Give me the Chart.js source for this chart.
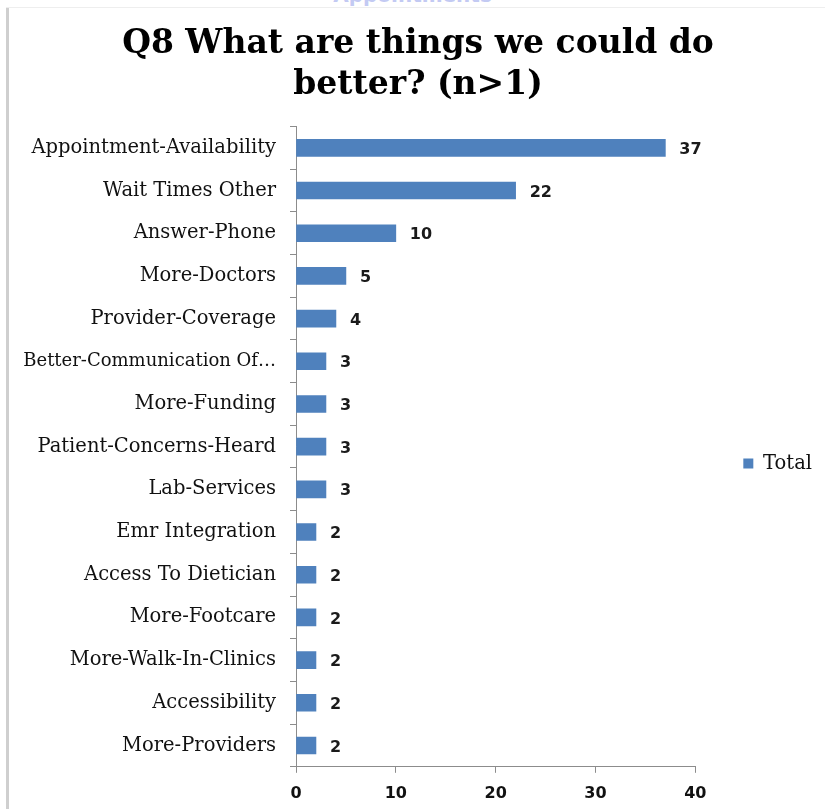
<!DOCTYPE html>
<html>
<head>
<meta charset="utf-8">
<script src="https://cdn.jsdelivr.net/npm/chart.js@4/dist/chart.umd.min.js"></script>
<style>
  html,body{margin:0;padding:0;background:#fff;}
  #wrap{position:relative;width:825px;height:809px;overflow:hidden;background:#fff;}
  #frameL{position:absolute;left:6px;top:7px;width:3px;height:810px;background:#cfcfcf;}
  #frameT{position:absolute;left:6px;top:7px;width:830px;height:1px;background:#eeeeee;}
  #ghost{position:absolute;left:0;width:825px;top:-17px;text-align:center;font:bold 20px "DejaVu Sans",sans-serif;color:#c3caf3;}
  canvas{position:absolute;left:0;top:0;}
</style>
</head>
<body>
<div id="wrap">
  <div id="ghost">Appointments</div>
  <div id="frameL"></div>
  <div id="frameT"></div>
  <canvas id="c" width="825" height="809"></canvas>
</div>
<script>
const titleLines = ["Q8 What are things we could do", "better? (n>1)"];
const categories = [
  "Appointment-Availability",
  "Wait Times Other",
  "Answer-Phone",
  "More-Doctors",
  "Provider-Coverage",
  "Better-Communication Of\u2026",
  "More-Funding",
  "Patient-Concerns-Heard",
  "Lab-Services",
  "Emr Integration",
  "Access To Dietician",
  "More-Footcare",
  "More-Walk-In-Clinics",
  "Accessibility",
  "More-Providers"
];
const totals = [37, 22, 10, 5, 4, 3, 3, 3, 3, 2, 2, 2, 2, 2, 2];
const seriesName = "Total";
const xTicks = [0, 10, 20, 30, 40];

const valueLabels = {
  id: 'valueLabels',
  afterDatasetsDraw(chart) {
    const ctx = chart.ctx;
    ctx.save();
    ctx.font = 'bold 16px "DejaVu Sans", sans-serif';
    ctx.fillStyle = '#1a1a1a';
    ctx.textAlign = 'left';
    ctx.textBaseline = 'middle';
    chart.getDatasetMeta(0).data.forEach((el, i) => {
      ctx.fillText(String(chart.data.datasets[0].data[i]), el.x + 14, el.y + 2);
    });
    ctx.restore();
  }
};

new Chart(document.getElementById('c'), {
  type: 'bar',
  data: {
    labels: categories,
    datasets: [{
      label: seriesName,
      data: totals,
      backgroundColor: '#4F81BD',
      borderWidth: 0,
      barThickness: 17
    }]
  },
  options: {
    indexAxis: 'y',
    responsive: false,
    animation: false,
    layout: { padding: { left: 14, right: 3, top: 0, bottom: -5 } },
    plugins: {
      title: {
        display: true,
        text: titleLines,
        color: '#000',
        font: { family: '"DejaVu Serif", serif', weight: 'bold', size: 33, lineHeight: 1.25 },
        padding: { top: 24, bottom: 20 }
      },
      legend: {
        position: 'right',
        title: { display: true, text: ' ', font: { size: 1 }, padding: { top: 112, bottom: 0 } },
        labels: {
          boxWidth: 10,
          boxHeight: 10,
          color: '#111',
          padding: 48,
          font: { family: '"DejaVu Serif", serif', size: 19.5 }
        }
      },
      tooltip: { enabled: false }
    },
    scales: {
      y: {
        grid: { display: true, drawOnChartArea: false, offset: true, tickLength: 6, color: '#8c8c8c' },
        border: { color: '#8c8c8c', width: 1 },
        ticks: {
          color: '#111',
          padding: 14,
          autoSkip: false,
          font: (ctx) => ({ family: '"DejaVu Serif", serif', size: ctx.index === 5 ? 18 : 19.5 })
        },
        afterFit(scale) { scale.width = 282; }
      },
      x: {
        min: 0, max: 40,
        afterBuildTicks(scale) { scale.ticks = xTicks.map(v => ({ value: v })); },
        grid: { display: true, drawOnChartArea: false, tickLength: 6, color: '#8c8c8c' },
        border: { color: '#8c8c8c', width: 1 },
        ticks: {
          color: '#111',
          padding: 11,
          font: { family: '"DejaVu Sans", sans-serif', weight: 'bold', size: 16 }
        }
      }
    }
  },
  plugins: [valueLabels]
});
</script>
</body>
</html>
